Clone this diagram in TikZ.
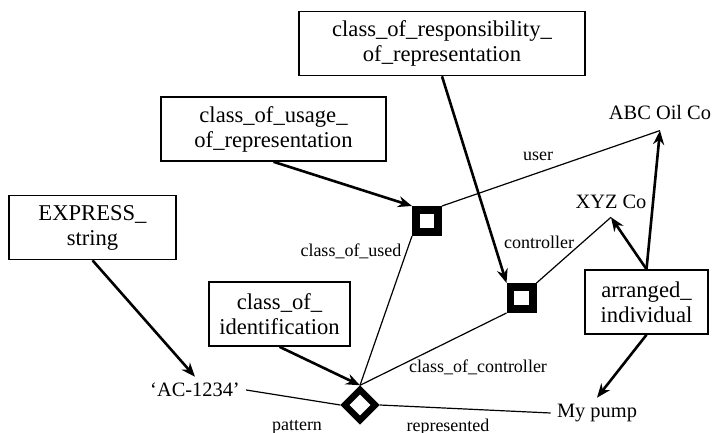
\documentclass[tikz,border=0pt]{standalone}
\usepackage{fontspec}
\setmainfont{Liberation Serif}
\usepackage{tikz}
\usetikzlibrary{shapes,arrows.meta,positioning,calc}

\begin{document}
\begin{tikzpicture}[
    x=0.5pt, y=-0.5pt,
    cls/.style={rectangle, draw, line width=0.8pt, minimum height=32pt, align=center, font=\fontsize{11.3}{12.5}\selectfont, inner sep=2pt},
    thing/.style={inner sep=3pt, font=\fontsize{10.2}{12}\selectfont},
    rel/.style={rectangle, draw, line width=3.8pt, minimum size=11.2pt, inner sep=0pt},
    idrel/.style={diamond, draw, line width=3.2pt, minimum size=16.5pt, inner sep=0pt},
    lbl/.style={font=\fontsize{9}{10}\selectfont, inner sep=1pt},
    arr/.style={-{Stealth[length=7pt,width=5.5pt]}, line width=1.3pt},
    link/.style={line width=0.6pt}
]
\useasboundingbox (0,0) rectangle (714,433);

% classes
\node[cls, minimum width=143pt] (resp) at (442,43.5) {class\_of\_responsibility\_\\of\_representation};
\node[cls, minimum width=112.5pt] (usage) at (273.5,129) {class\_of\_usage\_\\of\_representation};
\node[cls, minimum width=83.5pt] (express) at (92.5,227.5) {EXPRESS\_\\string};
\node[cls, minimum width=70.5pt] (ident) at (279.5,314) {class\_of\_\\identification};
\node[cls, minimum width=61.5pt] (arranged) at (646.5,302) {arranged\_\\individual};

% relationships
\node[rel] (use) at (427,221) {};
\node[rel] (ctrl) at (521.5,298) {};
\node[idrel] (idn) at (360,405) {};

% things
\node[thing] (ac) at (195,390) {‘AC-1234’};
\node[thing, inner sep=5pt] (abc) at (660,113) {ABC Oil Co};
\node[thing, inner sep=4pt] (xyz) at (611,202) {XYZ Co};
\node[thing] (pump) at (597,413) {My pump};

% classification
\draw[arr] (resp.south) -- (ctrl.north west);
\draw[arr] (usage.south) -- (use.north west);
\draw[arr] (express.south) -- (ac.north);
\draw[arr] (ident.south) -- (idn.north);
\draw[arr] (arranged.north) -- (abc.south);
\draw[arr] (arranged.north) -- (xyz.south);
\draw[arr] (arranged.south) -- (pump.north);

% roles
\draw[link] (use.north east) -- (abc.south);
\draw[link] (ctrl.north east) -- (xyz.south);
\draw[link] (idn.north) -- (use.south west);
\draw[link] (idn.north) -- (ctrl.south west);
\draw[link] (ac.east) -- (idn.west);
\draw[link] (idn.east) -- (pump.west);

% role labels
\node[lbl] (luser) at (538,156) {user};
\node[lbl] (lctrl) at (539,242) {controller};
\node[lbl] (lused) at (351,251) {class\_of\_used};
\node[lbl] (lcctrl) at (478,367) {class\_of\_controller};
\node[lbl] (lpat) at (297,427) {pattern};
\node[lbl] (lrep) at (448,427) {represented};
\end{tikzpicture}
\end{document}
